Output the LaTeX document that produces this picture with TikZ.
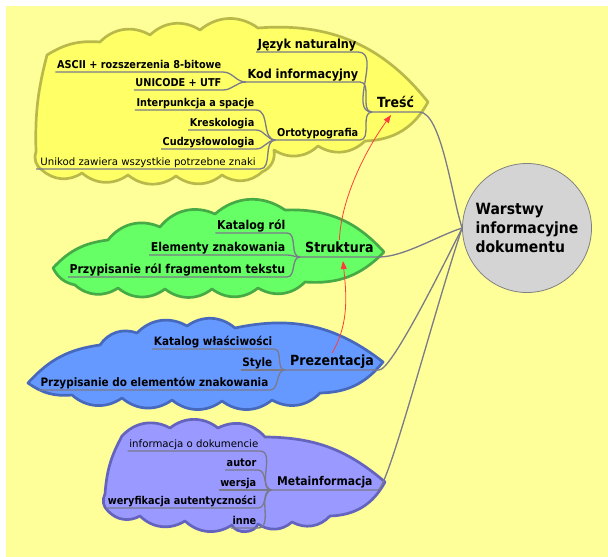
\documentclass[tikz,border=0pt]{standalone}
\usepackage{fontspec}
\setmainfont{DejaVu Sans}
\newfontfamily\fbfam[FakeStretch=0.9]{DejaVu Sans}
\newcommand{\fbold}{\fbfam\bfseries}
\usetikzlibrary{arrows.meta}
\definecolor{tlo}{RGB}{255,255,153}
\definecolor{zoltyF}{RGB}{255,255,102}
\definecolor{zoltyB}{RGB}{185,185,75}
\definecolor{zielonyF}{RGB}{102,255,102}
\definecolor{zielonyB}{RGB}{70,170,70}
\definecolor{niebieskiF}{RGB}{102,153,255}
\definecolor{niebieskiB}{RGB}{70,105,190}
\definecolor{fioletF}{RGB}{153,153,255}
\definecolor{fioletB}{RGB}{100,100,190}
\definecolor{linia}{RGB}{122,122,138}
\definecolor{czerwony}{RGB}{255,60,60}
\newcommand{\fs}[1]{\fontsize{#1}{#1}\selectfont}
\begin{document}
\begin{tikzpicture}[x=1pt,y=-1pt,
  puff/.style={bend left=38},
  ycloud/.style={fill=zoltyF,draw=zoltyB,line width=2.7pt,line join=round},
  gcloud/.style={fill=zielonyF,draw=zielonyB,line width=2.7pt,line join=round},
  bcloud/.style={fill=niebieskiF,draw=niebieskiB,line width=2.7pt,line join=round},
  pcloud/.style={fill=fioletF,draw=fioletB,line width=2.7pt,line join=round},
  edge/.style={draw=linia,line width=1.3pt},
  lab/.style={anchor=south east,inner xsep=1.5pt,inner ysep=0.8pt,text depth=2.5pt,font=\fbold\fs{10.8}},
  main/.style={anchor=south west,inner xsep=5pt,inner ysep=1.5pt,text depth=3pt,font=\fbold\fs{14}},
  rel/.style={draw=czerwony,line width=0.8pt,-{Triangle[length=8pt,width=6pt]}}]
\useasboundingbox (0,0) rectangle (608,557);
\fill[white] (0,0) rectangle (608,557);
\fill[tlo] (6,6) rectangle (608,557);

\draw[ycloud] (47,55) to[bend left=18] (100,42) to[puff] (150,35) to[puff] (200,30) to[puff] (258,28) to[bend left=28] (428,102) to[bend left=30] (365,141) to[puff] (318,146) to[puff] (274,150) to[puff] (262,172) to[puff] (222,175) to[puff] (176,176) to[puff] (128,175) to[puff] (82,173) to[puff] (42,170) to[puff] (36,152) to[bend left=8] (47,55) -- cycle;
\draw[gcloud] (53,268) to[bend left=20] (108,240) to[puff] (160,227) to[puff] (215,214) to[puff] (285,210) to[bend left=25] (384,252) to[bend left=25] (305,282) to[puff] (258,288) to[puff] (212,289) to[puff] (165,289) to[puff] (118,288) to[puff] (75,285) to[bend left=25] (53,268) -- cycle;
\draw[bcloud] (28,383) to[bend left=20] (100,345) to[puff] (137,333) to[puff] (187,326) to[puff] (235,328) to[bend left=25] (383,362) to[bend left=25] (320,393) to[puff] (272,400) to[puff] (222,401) to[puff] (172,400) to[puff] (122,398) to[puff] (72,395) to[bend left=20] (28,383) -- cycle;
\draw[pcloud] (122,436) to[puff] (170,428) to[puff] (218,428) to[puff] (265,437) to[bend left=20] (385,482) to[bend left=30] (330,516) to[puff] (292,522) to[puff] (258,524) to[bend left=70] (232,525) to[puff] (185,521) to[puff] (140,516) to[puff] (108,511) to[puff] (105,494) to[bend left=12] (122,436) -- cycle;

\node[circle,minimum size=129pt,inner sep=0pt,fill=black!17,draw=gray,line width=0.8pt,align=left,font=\fbold\fontsize{15.5}{19}\selectfont] (warstwy) at (527,228) {Warstwy\\informacyjne\\dokumentu};

\node[main] (tresc) at (372,112) {Treść};
\node[main] (struk) at (300,257) {Struktura};
\node[main] (prez) at (285,370) {Prezentacja};
\node[main,font=\fbold\fs{12}] (meta) at (272,490) {Metainformacja};
\coordinate (tresc-in) at (391,115);
\coordinate (struk-in) at (343,261);

\node[lab,font=\fbold\fs{12.5}] (jezyk) at (358,52) {Język naturalny};
\node[lab,font=\fbold\fs{12.5}] (kod) at (360,82) {Kod informacyjny};
\node[lab] (orto) at (360,140) {Ortotypografia};
\node[lab] (ascii) at (223,72) {ASCII + rozszerzenia 8-bitowe};
\node[lab] (unicode) at (223,90) {UNICODE + UTF};
\node[lab] (interp) at (256,110) {Interpunkcja a spacje};
\node[lab] (kresk) at (256,130) {Kreskologia};
\node[lab] (cudzy) at (256,149) {Cudzysłowologia};
\node[lab,inner xsep=4pt,font=\fs{10.2}] (unikod) at (260,169) {Unikod zawiera wszystkie potrzebne znaki};

\node[lab,font=\fbold\fs{12.2}] (katrol) at (287,233) {Katalog ról};
\node[lab,font=\fbold\fs{12.2}] (elem) at (287,255) {Elementy znakowania};
\node[lab,font=\fbold\fs{12.2}] (przyp) at (287,277) {Przypisanie ról fragmentom tekstu};

\node[lab,font=\fbold\fs{11.6}] (katwl) at (274,349) {Katalog właściwości};
\node[lab,font=\fbold\fs{11.6}] (styl) at (274,370) {Style};
\node[lab,font=\fbold\fs{11.6}] (przypel) at (270,390) {Przypisanie do elementów znakowania};

\node[lab,font=\fs{10.2}] (info) at (260,451) {informacja o dokumencie};
\node[lab] (autor) at (258,470) {autor};
\node[lab] (wersja) at (258,490) {wersja};
\node[lab] (weryf) at (258,508) {weryfikacja autentyczności};
\node[lab] (inne) at (258,528) {inne};

\draw[edge] (tresc.south west) -- (tresc.south east) .. controls +(22,0) and +(-10,-30) .. (warstwy.west);
\draw[edge] (struk.south west) -- (struk.south east) .. controls +(25,0) and +(-25,8) .. (warstwy.west);
\draw[edge] (prez.south west) -- (prez.south east) .. controls +(12,0) and +(-25,50) .. (warstwy.west);
\draw[edge] (meta.south west) -- (meta.south east) .. controls +(10,0) and +(-30,90) .. (warstwy.west);

\draw[edge] (jezyk.south west) -- (jezyk.south east) to[out=0,in=180] (tresc.south west);
\draw[edge] (kod.south west) -- (kod.south east) to[out=0,in=180] (tresc.south west);
\draw[edge] (orto.south west) -- (orto.south east) to[out=0,in=180] (tresc.south west);
\draw[edge] (ascii.south west) -- (ascii.south east) to[out=0,in=180] (kod.south west);
\draw[edge] (unicode.south west) -- (unicode.south east) to[out=0,in=180] (kod.south west);
\draw[edge] (interp.south west) -- (interp.south east) to[out=0,in=180] (orto.south west);
\draw[edge] (kresk.south west) -- (kresk.south east) to[out=0,in=180] (orto.south west);
\draw[edge] (cudzy.south west) -- (cudzy.south east) to[out=0,in=180] (orto.south west);
\draw[edge] (unikod.south west) -- (unikod.south east) to[out=0,in=180] (orto.south west);

\draw[edge] (katrol.south west) -- (katrol.south east) to[out=0,in=180] (struk.south west);
\draw[edge] (elem.south west) -- (elem.south east) to[out=0,in=180] (struk.south west);
\draw[edge] (przyp.south west) -- (przyp.south east) to[out=0,in=180] (struk.south west);

\draw[edge] (katwl.south west) -- (katwl.south east) to[out=0,in=180] (prez.south west);
\draw[edge] (styl.south west) -- (styl.south east) to[out=0,in=180] (prez.south west);
\draw[edge] (przypel.south west) -- (przypel.south east) to[out=0,in=180] (prez.south west);

\draw[edge] (info.south west) -- (info.south east) to[out=0,in=180] (meta.south west);
\draw[edge] (autor.south west) -- (autor.south east) to[out=0,in=180] (meta.south west);
\draw[edge] (wersja.south west) -- (wersja.south east) to[out=0,in=180] (meta.south west);
\draw[edge] (weryf.south west) -- (weryf.south east) to[out=0,in=180] (meta.south west);
\draw[edge] (inne.south west) -- (inne.south east) to[out=0,in=180] (meta.south west);

\draw[rel] (struk.north) .. controls +(2,-45) and +(-22,30) .. (tresc-in);
\draw[rel] (prez.north) .. controls +(18,-30) and +(3,30) .. (struk-in);
\end{tikzpicture}
\end{document}
